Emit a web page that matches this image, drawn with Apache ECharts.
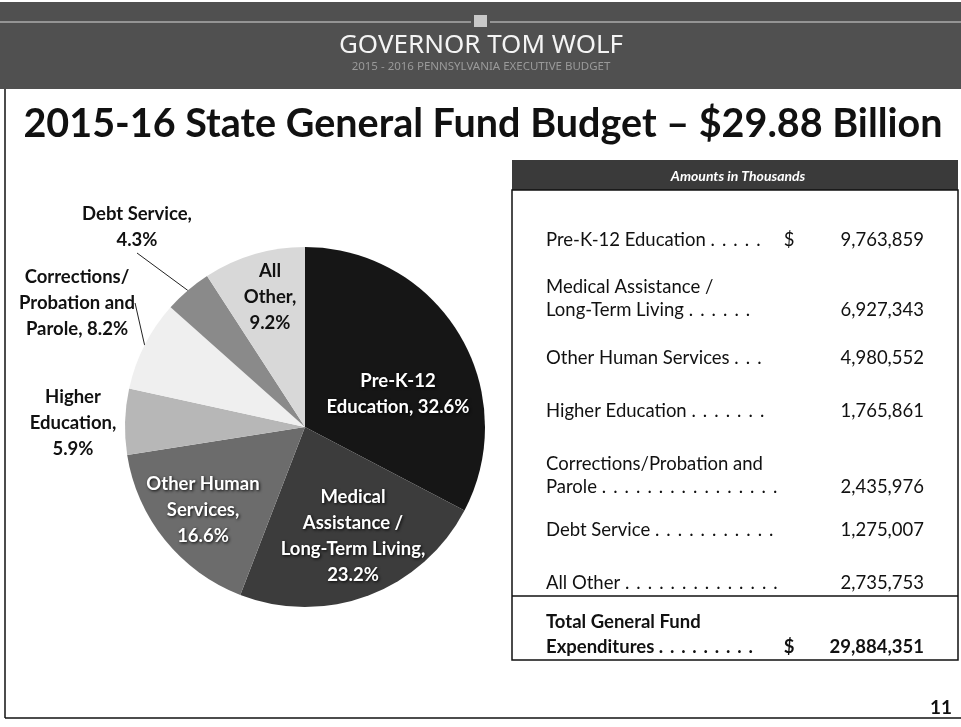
<!DOCTYPE html>
<html>
<head>
<meta charset="utf-8">
<script src="https://cdn.jsdelivr.net/npm/echarts@6/dist/echarts.min.js"></script>
<style>
html, body { margin: 0; padding: 0; background: #fff; }
#main { width: 961px; height: 727px; }
</style>
</head>
<body>
<div id="main"></div>
<script>
// slices clockwise from 12 o'clock, amounts in thousands
var categories = ['Pre-K-12 Education', 'Medical Assistance / Long-Term Living', 'Other Human Services',
    'Higher Education', 'Corrections/Probation and Parole', 'Debt Service', 'All Other'];
var amounts = [9763859, 6927343, 4980552, 1765861, 2435976, 1275007, 2735753];
var pieLabels = ['Pre-K-12\nEducation, 32.6%', 'Medical\nAssistance /\nLong-Term Living,\n23.2%',
    'Other Human\nServices,\n16.6%', 'Higher\nEducation,\n5.9%', 'Corrections/\nProbation and\nParole, 8.2%',
    'Debt Service,\n4.3%', 'All\nOther,\n9.2%'];
var sliceColors = ['#161616', '#3c3c3c', '#6c6c6c', '#b7b7b7', '#efefef', '#8a8a8a', '#d8d8d8'];

// table text
var tableRows = [['Pre-K-12 Education'], ['Medical Assistance /', 'Long-Term Living'], ['Other Human Services'],
    ['Higher Education'], ['Corrections/Probation and', 'Parole'], ['Debt Service'], ['All Other']];
var tableDots = [5, 6, 3, 7, 16, 11, 14];
var totalRows = ['Total General Fund', 'Expenditures'];
var totalDots = 9;
var totalAmount = 29884351;

var chart = echarts.init(document.getElementById('main'));

var FONT = 'Lato, "Open Sans", sans-serif';

function fmt(v) {
    return String(v).replace(/\B(?=(\d{3})+(?!\d))/g, ',');
}
function dots(n) {
    var s = [];
    for (var i = 0; i < n; i++) s.push('.');
    return ' ' + s.join(' \u2009');
}

// label placement for each slice (centre of the text block)
var labelPos = [[398, 394], [353, 536], [203, 510], [73, 423], [77, 303], [137, 227], [270, 297]];
var outside = [false, false, false, true, true, true, false];
var leader = [false, false, false, false, true, true, false];

var pieData = categories.map(function(name, i) {
    var light = i >= 3;
    return {
        name: name,
        value: amounts[i],
        itemStyle: { color: sliceColors[i] },
        label: {
            position: outside[i] ? 'outside' : 'inside',
            color: light ? '#111' : '#fff',
            textShadowColor: light ? 'transparent' : 'rgba(0,0,0,0.9)',
            textShadowBlur: light ? 0 : 3,
            textShadowOffsetX: light ? 0 : 1,
            textShadowOffsetY: light ? 0 : 1
        },
        labelLine: { show: leader[i], length: 12, length2: 0, lineStyle: { color: '#222', width: 1 } }
    };
});

var g = [];
// header band
g.push({ type: 'rect', shape: { x: 0, y: 2, width: 961, height: 87 }, style: { fill: '#505050' } });
g.push({ type: 'line', shape: { x1: 0, y1: 22, x2: 471, y2: 22 }, style: { stroke: '#d8d8d8', lineWidth: 1 } });
g.push({ type: 'line', shape: { x1: 490, y1: 22, x2: 961, y2: 22 }, style: { stroke: '#d8d8d8', lineWidth: 1 } });
g.push({ type: 'rect', shape: { x: 474, y: 15, width: 13, height: 12 }, style: { fill: '#c8c8c8' } });
g.push({ type: 'text', style: { x: 481, y: 46, text: 'GOVERNOR TOM WOLF', fill: '#f4f4f4', fontSize: 26,
    fontFamily: '"Noto Sans", sans-serif', align: 'center', verticalAlign: 'middle' } });
g.push({ type: 'text', style: { x: 481, y: 67, text: '2015 - 2016 PENNSYLVANIA EXECUTIVE BUDGET', fill: '#9a9a9a',
    fontSize: 11.5, fontFamily: '"Noto Sans", sans-serif', align: 'center', verticalAlign: 'middle' } });

// frame
g.push({ type: 'line', shape: { x1: 5, y1: 89, x2: 5, y2: 718 }, style: { stroke: '#111', lineWidth: 1.5 } });
g.push({ type: 'line', shape: { x1: 5, y1: 718, x2: 961, y2: 718 }, style: { stroke: '#111', lineWidth: 1.5 } });

// slide title
g.push({ type: 'text', style: { x: 483, y: 124, text: '2015-16 State General Fund Budget \u2013 $29.88 Billion',
    fill: '#111', fontSize: 39.5, fontWeight: 'bold', fontFamily: FONT, align: 'center', verticalAlign: 'middle' } });

// table
var tx = 512, tw = 446, tRight = 924, tDollar = 789, tLabel = 546;
g.push({ type: 'rect', shape: { x: tx, y: 160, width: tw, height: 30 }, style: { fill: '#3a3a3a' } });
g.push({ type: 'text', style: { x: 738, y: 176, text: 'Amounts in Thousands', fill: '#fff', fontSize: 14,
    fontWeight: 'bold', fontStyle: 'italic', fontFamily: FONT, align: 'center', verticalAlign: 'middle' } });
g.push({ type: 'rect', shape: { x: tx, y: 190, width: tw, height: 470 }, style: { fill: 'none', stroke: '#111', lineWidth: 1.5 } });
g.push({ type: 'line', shape: { x1: tx, y1: 596, x2: tx + tw, y2: 596 }, style: { stroke: '#111', lineWidth: 1.5 } });

var rowY = [240, 310, 358, 411, 487, 530, 583];
var rowText = { fill: '#111', fontSize: 18.5, fontFamily: FONT, verticalAlign: 'middle' };
tableRows.forEach(function(lines, i) {
    var y = rowY[i];
    lines.forEach(function(line, j) {
        var last = j === lines.length - 1;
        var ly = y - (lines.length - 1 - j) * 23;
        g.push({ type: 'text', style: echarts.util.extend({ x: tLabel, y: ly, align: 'left',
            text: last ? line + dots(tableDots[i]) : line }, rowText) });
    });
    if (i === 0) {
        g.push({ type: 'text', style: echarts.util.extend({ x: tDollar, y: y, align: 'center', text: '$' }, rowText) });
    }
    g.push({ type: 'text', style: echarts.util.extend({ x: tRight, y: y, align: 'right', text: fmt(amounts[i]) }, rowText) });
});
var boldText = echarts.util.extend({}, rowText);
boldText.fontWeight = 'bold';
g.push({ type: 'text', style: echarts.util.extend({ x: tLabel, y: 622, align: 'left', text: totalRows[0] }, boldText) });
g.push({ type: 'text', style: echarts.util.extend({ x: tLabel, y: 647, align: 'left', text: totalRows[1] + dots(totalDots) }, boldText) });
g.push({ type: 'text', style: echarts.util.extend({ x: tDollar, y: 647, align: 'center', text: '$' }, boldText) });
g.push({ type: 'text', style: echarts.util.extend({ x: tRight, y: 647, align: 'right', text: fmt(totalAmount) }, boldText) });

// page number
g.push({ type: 'text', style: { x: 952, y: 708, text: '11', fill: '#111', fontSize: 19, fontWeight: 'bold',
    fontFamily: FONT, align: 'right', verticalAlign: 'middle' } });

chart.setOption({
    backgroundColor: '#fff',
    animation: false,
    graphic: { elements: g },
    series: [{
        type: 'pie',
        center: [305, 427],
        radius: 180,
        startAngle: 90,
        clockwise: true,
        data: pieData,
        itemStyle: { borderWidth: 0 },
        label: {
            show: true,
            formatter: function(p) { return pieLabels[p.dataIndex]; },
            fontFamily: FONT,
            fontWeight: 'bold',
            fontSize: 18.5,
            lineHeight: 26,
            align: 'center'
        },
        labelLayout: function(params) {
            var p = labelPos[params.dataIndex];
            return { x: p[0], y: p[1], align: 'center', verticalAlign: 'middle' };
        }
    }]
});
</script>
</body>
</html>
